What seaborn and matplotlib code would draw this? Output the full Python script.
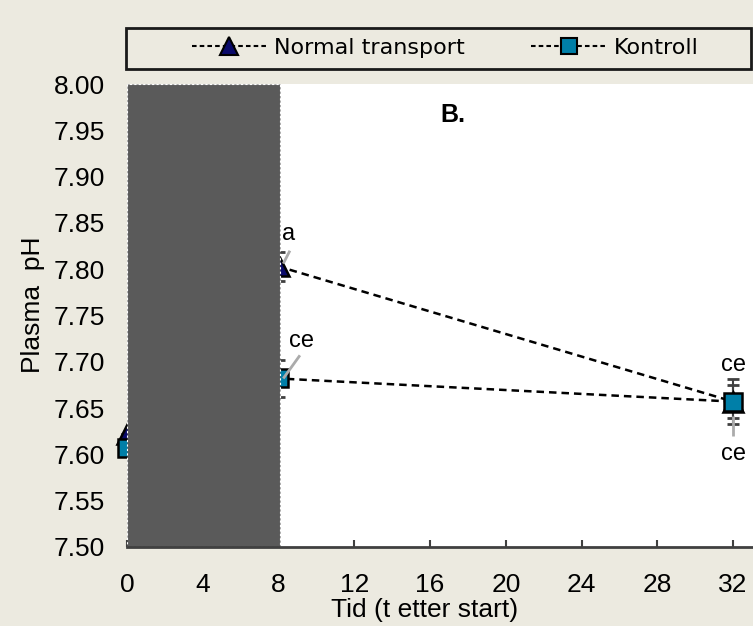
import matplotlib
matplotlib.use("Agg")
import matplotlib.pyplot as plt
import seaborn as sns
import pandas as pd
from matplotlib.patches import Rectangle
from matplotlib.lines import Line2D

# ---- data ----
tid = [0, 8, 32]
normal_ph = [7.622, 7.803, 7.657]
normal_err = [0.0, 0.016, 0.018]
kontroll_ph = [7.607, 7.682, 7.657]
kontroll_err = [0.0, 0.020, 0.024]
x_ticks = [0, 4, 8, 12, 16, 20, 24, 28, 32]
y_ticks = [7.50, 7.55, 7.60, 7.65, 7.70, 7.75, 7.80, 7.85, 7.90, 7.95, 8.00]
series_names = ["Normal transport", "Kontroll"]
# annotations: (text, label x, label y, leader x0, y0, x1, y1)
annots = [
    ("a", 8.55, 7.838, 8.25, 7.806, 8.6, 7.820),
    ("ce", 9.2, 7.722, 8.25, 7.682, 9.13, 7.707),
    ("ce", 32.0, 7.697, None, None, None, None),
    ("ce", 32.0, 7.600, 32.0, 7.641, 32.0, 7.620),
]

BG = "#ECEAE0"
NAVY = "#0A0A6A"
TEAL = "#007FA8"

sns.set_theme(style="white")
plt.rcParams["font.family"] = ["Liberation Sans", "DejaVu Sans"]
plt.rcParams["text.color"] = "black"
plt.rcParams["axes.labelcolor"] = "black"
plt.rcParams["xtick.labelcolor"] = "black"
plt.rcParams["ytick.labelcolor"] = "black"

fig = plt.figure(figsize=(7.53, 6.26), dpi=100, facecolor=BG)
W, H = 753, 626
ax = fig.add_axes([127 / W, (H - 547) / H, (753 - 127) / W, (547 - 84) / H])
ax.set_facecolor("white")

df = pd.DataFrame({
    "tid": tid * 2,
    "ph": normal_ph + kontroll_ph,
    "serie": [series_names[0]] * 3 + [series_names[1]] * 3,
})

# error bars
ax.errorbar(tid, normal_ph, yerr=normal_err, fmt="none", ecolor="#404040",
            elinewidth=1.5, capsize=4.5, capthick=2, zorder=2, clip_on=False)
ax.errorbar(tid, kontroll_ph, yerr=kontroll_err, fmt="none", ecolor="#404040",
            elinewidth=1.5, capsize=4.5, capthick=2, zorder=2, clip_on=False)

sns.lineplot(data=df[df.serie == series_names[0]], x="tid", y="ph", ax=ax,
             color="black", linestyle=(0, (3, 2)), linewidth=1.8,
             marker="^", markersize=14, markerfacecolor=NAVY,
             markeredgecolor="black", markeredgewidth=1.8, zorder=3,
             clip_on=False, legend=False)
sns.lineplot(data=df[df.serie == series_names[1]], x="tid", y="ph", ax=ax,
             color="black", linestyle=(0, (3, 2)), linewidth=1.8,
             marker="s", markersize=12.5, markerfacecolor=TEAL,
             markeredgecolor="black", markeredgewidth=1.8, zorder=4,
             clip_on=False, legend=False)

# gray shaded period
ax.add_patch(Rectangle((0, 7.50), 8.1, 0.50, facecolor="#5A5A5A",
                       edgecolor="white", linestyle=(0, (2, 2)),
                       linewidth=0.8, zorder=6, clip_on=False))

# annotations and leader lines
for txt, lx, ly, x0, y0, x1, y1 in annots:
    if x0 is not None:
        ax.plot([x0, x1], [y0, y1], color="#ABABAB", linewidth=2, zorder=5,
                solid_capstyle="butt")
    ax.text(lx, ly, txt, ha="center", va="center", fontsize=17, zorder=7)

ax.text(17.2, 7.966, "B.", ha="center", va="center", fontsize=18,
        fontweight="bold", zorder=7)

ax.set_xlim(0, 33.05)
ax.set_ylim(7.50, 8.00)
ax.set_xticks(x_ticks)
ax.set_yticks(y_ticks)
ax.set_yticklabels([f"{v:.2f}" for v in y_ticks])
ax.tick_params(axis="x", direction="in", length=5, width=1.5, color="#404040",
               labelsize=19, pad=19, bottom=True)
ax.tick_params(axis="y", length=0, labelsize=19, pad=16)
for s in ["top", "right", "left"]:
    ax.spines[s].set_visible(False)
ax.spines["bottom"].set_color("#404040")
ax.spines["bottom"].set_linewidth(2)
ax.spines["bottom"].set_zorder(8)
ax.set_xlabel("")
ax.set_ylabel("Plasma  pH", fontsize=19)
ax.yaxis.set_label_coords(-(127 - 45) / 626, (547 - 305) / 463)
fig.text(425 / W, 1 - 610 / H, "Tid (t etter start)", ha="center",
         va="center", fontsize=19)

# legend box
fig.patches.append(Rectangle((126 / W, 1 - 69 / H), (751 - 126) / W, 41 / H,
                             transform=fig.transFigure, facecolor=BG,
                             edgecolor="#1A1A1A", linewidth=2))
handles = [
    Line2D([], [], color="black", linestyle=(0, (2.2, 1.5)), linewidth=1.5,
           marker="^", markersize=13, markerfacecolor=NAVY,
           markeredgecolor="black", markeredgewidth=1.5),
    Line2D([], [], color="black", linestyle=(0, (2.2, 1.5)), linewidth=1.5,
           marker="s", markersize=12, markerfacecolor=TEAL,
           markeredgecolor="black", markeredgewidth=1.5),
]
fig.legend(handles, series_names, loc="center", ncol=2, frameon=False,
           bbox_to_anchor=(445 / W, 1 - 48 / H), handlelength=3.4,
           handletextpad=0.3, columnspacing=3.0,
           prop={"family": "DejaVu Sans", "size": 16})

fig.savefig("out.png", dpi=100, facecolor=BG)
